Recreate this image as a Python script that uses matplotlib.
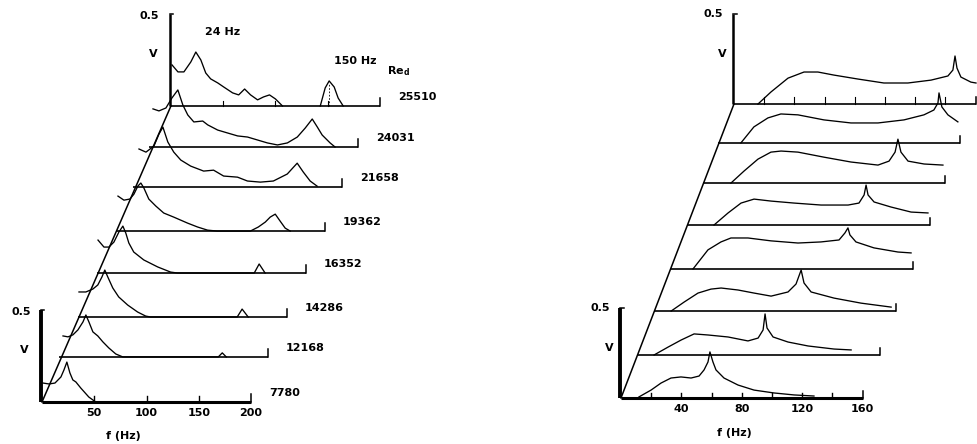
import numpy as np
import matplotlib.pyplot as plt

plt.rcParams.update({"font.family": "DejaVu Sans", "font.weight": "bold", "font.size": 8})

# ---- left panel: spectra for each Re_d (f in Hz, V in volts, measured from each trace's own origin)
re_left = ['7780', '12168', '14286', '16352', '19362', '21658', '24031', '25510']

f_7780 = [1, 6.7, 12.4, 18.1, 21, 23.8, 26.7, 29.5, 32.4, 37.1, 44.8, 51.4]
v_7780 = [0.103, 0.098, 0.103, 0.136, 0.174, 0.217, 0.158, 0.12, 0.109, 0.076, 0.027, 0]

f_12168 = [3.8, 8.6, 13.3, 18.1, 22.9, 25.7, 28.6, 32.4, 37.1, 41.9, 47.6, 54.3, 61,
           152.4, 156.2, 160]
v_12168 = [0.114, 0.109, 0.12, 0.147, 0.19, 0.228, 0.19, 0.136, 0.114, 0.082, 0.049, 0.016, 0,
           0, 0.022, 0]

f_14286 = [1, 7.6, 14.3, 19, 22.9, 25.7, 28.6, 33.3, 39, 47.6, 57.1, 64.8, 69.5,
           152.4, 157.1, 162.9]
v_14286 = [0.136, 0.136, 0.152, 0.174, 0.217, 0.255, 0.217, 0.158, 0.109, 0.065, 0.027, 0.005, 0,
           0, 0.043, 0]

f_16352 = [1, 6.7, 11.4, 16.2, 21, 24.8, 27.6, 30.5, 35.2, 44.8, 58.1, 70.5, 77.1,
           150.5, 155.2, 160.9]
v_16352 = [0.179, 0.141, 0.141, 0.168, 0.223, 0.255, 0.217, 0.163, 0.114, 0.071, 0.033, 0.005, 0,
           0, 0.049, 0]

f_19362 = [1.9, 7.6, 13.3, 17.1, 21, 23.8, 26.7, 31.4, 38.1, 45.7, 55.2, 68.6, 78.1, 87.6, 97,
           128.6, 136.2, 142.9, 147.6, 152.4, 157.1, 161.9, 166.7]
v_19362 = [0.19, 0.168, 0.174, 0.2, 0.245, 0.261, 0.234, 0.174, 0.136, 0.098, 0.076, 0.043, 0.022, 0.005, 0,
           0, 0.022, 0.049, 0.076, 0.092, 0.054, 0.016, 0]

f_21658 = [5.7, 12.4, 20, 24.8, 28.6, 33.3, 39, 45.7, 55.2, 67.6, 77.1, 86.7, 100, 109.5,
           121.9, 134.3, 147.6, 157.1, 162.9, 169.5, 176.2]
v_21658 = [0.207, 0.19, 0.223, 0.288, 0.326, 0.245, 0.19, 0.147, 0.114, 0.087, 0.092, 0.06, 0.054, 0.033,
           0.027, 0.033, 0.071, 0.13, 0.082, 0.033, 0.005]

f_24031 = [3.8, 9.5, 16.2, 21.9, 27.6, 32.4, 37.1, 42.9, 51.4, 56.2, 65.7, 75.2, 84.8, 94.3, 103.8,
           113.3, 122.9, 132.4, 141.9, 149.5, 156.2, 161, 165.7, 173.3, 178]
v_24031 = [0.207, 0.196, 0.212, 0.266, 0.31, 0.228, 0.174, 0.136, 0.141, 0.12, 0.092, 0.076, 0.06, 0.054, 0.038,
           0.022, 0.011, 0.022, 0.054, 0.103, 0.152, 0.109, 0.065, 0.022, 0]

f_25510 = [1, 6.7, 12.4, 19, 23.8, 28.6, 33.3, 38, 44.8, 50.5, 59, 64.8, 70.5, 76.2, 82.9, 88.6, 94.3,
           100, 106.7]
v_25510 = [0.223, 0.185, 0.185, 0.239, 0.293, 0.25, 0.179, 0.147, 0.125, 0.103, 0.071, 0.06, 0.092, 0.06,
           0.033, 0.049, 0.06, 0.038, 0]
f_25510_hi = [142.9, 147.6, 151.4, 156.2, 160, 164.8]
v_25510_hi = [0, 0.098, 0.136, 0.103, 0.043, 0]

left_f = [f_7780, f_12168, f_14286, f_16352, f_19362, f_21658, f_24031, f_25510]
left_v = [v_7780, v_12168, v_14286, v_16352, v_19362, v_21658, v_24031, v_25510]
left_ticks = [50, 100, 150, 200]

# ---- right panel spectra
r1_f = [11.9, 19.9, 26.5, 33.1, 39.7, 46.4, 51.7, 55, 57.6, 58.9, 60.9, 62.9, 68.2, 77.5, 88.1, 101.3, 114.6, 127.8]
r1_v = [0.006, 0.044, 0.083, 0.111, 0.117, 0.111, 0.122, 0.156, 0.2, 0.256, 0.2, 0.156, 0.111, 0.072, 0.044, 0.028, 0.017, 0.011]
r2_f = [10.6, 19.9, 28.5, 37.1, 46.4, 59.6, 72.8, 79.5, 82.8, 84.1, 85.4, 89.4, 99.3, 112.6, 129.8, 141.1]
r2_v = [0, 0.044, 0.083, 0.117, 0.111, 0.1, 0.078, 0.094, 0.139, 0.228, 0.15, 0.1, 0.072, 0.05, 0.033, 0.028]
r3_f = [11.3, 19.9, 29.1, 37.7, 44.4, 55.6, 66.2, 77.5, 88.7, 94, 97.4, 99.3, 104, 119.2, 137.1, 157]
r3_v = [0, 0.05, 0.1, 0.122, 0.128, 0.117, 0.1, 0.083, 0.106, 0.15, 0.228, 0.156, 0.106, 0.072, 0.044, 0.022]
r4_f = [14.6, 24.5, 33.1, 39.7, 51, 66.2, 84.1, 99.3, 111.3, 115.2, 117.2, 118.5, 122.5, 134.4, 150.3, 159]
r4_v = [0, 0.106, 0.15, 0.172, 0.172, 0.156, 0.144, 0.15, 0.161, 0.2, 0.228, 0.189, 0.15, 0.117, 0.094, 0.089]
r5_f = [17.2, 26.5, 35.1, 43.7, 55, 70.2, 88.1, 106, 113.2, 116.6, 117.9, 119.2, 123.2, 134.4, 147.7, 158.9]
r5_v = [0, 0.067, 0.122, 0.144, 0.133, 0.122, 0.111, 0.111, 0.122, 0.167, 0.222, 0.167, 0.128, 0.1, 0.072, 0.067]
r6_f = [18.5, 27.2, 36.4, 45, 51.7, 62.9, 80.1, 98, 115.9, 123.2, 127.2, 129.1, 131.1, 135.8, 146.4, 158.9]
r6_v = [0, 0.067, 0.133, 0.172, 0.178, 0.172, 0.144, 0.117, 0.1, 0.122, 0.172, 0.244, 0.172, 0.122, 0.106, 0.1]
r7_f = [15.2, 23.8, 33.1, 41.7, 53, 70.2, 88.1, 106, 123.2, 136.4, 143, 145.7, 146.4, 148.3, 152.3, 158.9]
r7_v = [0, 0.089, 0.139, 0.161, 0.156, 0.128, 0.111, 0.111, 0.128, 0.156, 0.183, 0.222, 0.278, 0.2, 0.156, 0.117]
r8_f = [15.9, 24.5, 35.8, 46.4, 55.6, 66.2, 82.1, 99.3, 115.2, 130.5, 141.7, 145, 146.4, 147.7, 150.3, 156.9, 160.3]
r8_v = [0, 0.067, 0.144, 0.178, 0.178, 0.161, 0.139, 0.117, 0.117, 0.133, 0.156, 0.189, 0.267, 0.2, 0.15, 0.122, 0.117]

right_f = [r1_f, r2_f, r3_f, r4_f, r5_f, r6_f, r7_f, r8_f]
right_v = [r1_v, r2_v, r3_v, r4_v, r5_v, r6_v, r7_v, r8_v]
right_ticks = [40, 80, 120, 160]

# ---- layout: trace origins (Hz, V) in each panel's waterfall
left_dx = [0, 16.3, 34.4, 52.6, 70.8, 87.1, 102.4, 123.4]
left_dy = [0, 0.245, 0.462, 0.701, 0.929, 1.168, 1.386, 1.609]
right_dx = [0, 11.3, 21.9, 33.1, 44.4, 54.3, 64.2, 74.8]
right_dy = [0, 0.239, 0.483, 0.717, 0.961, 1.194, 1.417, 1.633]

fig = plt.figure(figsize=(9.77, 4.44), dpi=100)
fig.patch.set_facecolor('white')

# px scales: left 1.045 px/Hz, 184 px/V ; right 1.51 px/Hz, 180 px/V
axL = fig.add_axes([0, 0, 488 / 977, 1])
axL.set_xlim(-42 / 1.045, (488 - 42) / 1.045)
axL.set_ylim(-(444 - 402) / 184, 402 / 184)
axL.axis('off')

axR = fig.add_axes([488 / 977, 0, 489 / 977, 1])
axR.set_xlim((488 - 621) / 1.51, (977 - 621) / 1.51)
axR.set_ylim(-(444 - 398) / 180, 398 / 180)
axR.axis('off')

k = 'black'


def waterfall(ax, fs, vs, dxs, dys, fmax, ticks, tick_h, vx):
    n = len(fs)
    # slanted axis joining the trace origins
    ax.plot([dxs[0], dxs[-1]], [dys[0], dys[-1]], color=k, lw=1.1)
    for i in range(n):
        dx, dy = dxs[i], dys[i]
        lw_base = 2.2 if i == 0 else 1.2
        ax.plot([dx, dx + fmax], [dy, dy], color=k, lw=lw_base, solid_capstyle='butt')
        ax.plot([dx + fmax, dx + fmax], [dy, dy + tick_h], color=k, lw=1.1)
        ax.plot(dx + np.array(fs[i]), dy + np.array(vs[i]), color=k, lw=0.95)
    # V axes on bottom and top traces
    for i, lw in [(0, 2.8), (n - 1, 1.8)]:
        dx, dy = dxs[i], dys[i]
        ax.plot([dx + vx, dx + vx], [dy, dy + 0.5], color=k, lw=lw, solid_capstyle='butt')
        ax.plot([dx + vx, dx + vx + 3], [dy + 0.5, dy + 0.5], color=k, lw=1.1)
    return ax


# left panel
waterfall(axL, left_f, left_v, left_dx, left_dy, 200, left_ticks, 0.045, -1)
for t in left_ticks[:-1]:
    axL.plot([t, t], [0, 0.03], color=k, lw=1.0)
    axL.plot([left_dx[-1] + t, left_dx[-1] + t], [left_dy[-1], left_dy[-1] + 0.025], color=k, lw=0.8)
axL.plot(left_dx[-1] + np.array(f_25510_hi), left_dy[-1] + np.array(v_25510_hi), color=k, lw=0.95)
axL.plot([left_dx[-1] + 151, left_dx[-1] + 151], [left_dy[-1], left_dy[-1] + 0.12],
         color=k, lw=0.6, ls=(0, (2, 2)))
for t in left_ticks:
    axL.text(t, -0.06, str(t), ha='center', va='center')
axL.text(78, -0.185, 'f (Hz)', ha='center', va='center')
for i, lab in enumerate(re_left):
    axL.text(left_dx[i] + 217, left_dy[i] + 0.05, lab, ha='left', va='center')
axL.text(left_dx[-1] + 207, left_dy[-1] + 0.19, r'Re$_\mathregular{d}$', ha='left', va='center')
axL.text(left_dx[-1] + 33, left_dy[-1] + 0.40, '24 Hz', ha='left', va='center')
axL.text(left_dx[-1] + 156, left_dy[-1] + 0.245, '150 Hz', ha='left', va='center')
for i in [0, len(left_dx) - 1]:
    axL.text(left_dx[i] - 11, left_dy[i] + 0.49, '0.5', ha='right', va='center')
    axL.text(left_dx[i] - 17, left_dy[i] + 0.28, 'V', ha='center', va='center')

# right panel
waterfall(axR, right_f, right_v, right_dx, right_dy, 160, right_ticks, 0.04, -0.7)
for t in range(20, 160, 20):
    axR.plot([t, t], [0, 0.03], color=k, lw=1.0)
    axR.plot([right_dx[-1] + t, right_dx[-1] + t], [right_dy[-1], right_dy[-1] + 0.04], color=k, lw=0.8)
for t in right_ticks:
    axR.text(t, -0.061, str(t), ha='center', va='center')
axR.text(75, -0.194, 'f (Hz)', ha='center', va='center')
for i in [0, len(right_dx) - 1]:
    axR.text(right_dx[i] - 7, right_dy[i] + 0.50, '0.5', ha='right', va='center')
    axR.text(right_dx[i] - 8, right_dy[i] + 0.28, 'V', ha='center', va='center')

fig.savefig('out.png', dpi=100, facecolor='white')
